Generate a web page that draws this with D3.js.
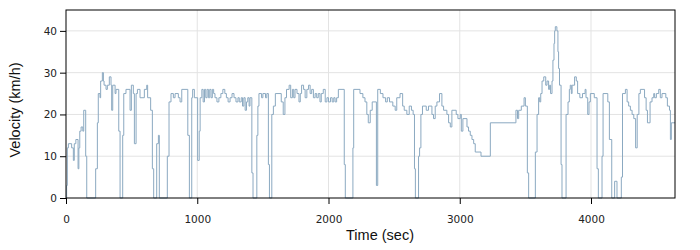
<!DOCTYPE html>
<html>
<head>
<meta charset="utf-8">
<script src="https://cdn.jsdelivr.net/npm/d3@7"></script>
<style>
  html, body { margin: 0; padding: 0; background: #fff; }
  svg { display: block; }
  .tick text { font-family: "DejaVu Sans", sans-serif; font-size: 10.5px; fill: #222; }
  .axis-label { font-family: "Liberation Sans", Arial, sans-serif; font-size: 14.5px; fill: #111; }
</style>
</head>
<body>
<svg id="chart" width="700" height="250"></svg>
<script>
// time (s) of each step start
const timeSec = [
  0,5,10,18,43,56,63,75,92,98,105,115,128,135,150,158,
  226,239,246,259,264,277,285,290,305,315,330,343,348,356,374,381,402,412,
  432,440,457,488,498,513,521,534,544,564,597,615,622,645,658,668,
  691,704,711,
  772,785,800,818,831,856,869,882,928,940,
  958,965,978,1003,1015,1022,1035,1045,1055,1065,1075,1085,1095,1105,1115,1125,1135,1150,1165,1180,1195,1210,1222,1235,1250,1265,1280,1295,1310,1320,1335,1345,1355,1365,1375,1385,1395,1402,1416,1425,
  1454,1462,1470,1490,1500,1520,1530,1542,1550,
  1568,1580,1595,1640,1655,1668,1680,1700,1712,1725,1735,1745,1760,1775,1785,1795,1810,1822,1835,1848,1860,1872,1885,1898,1910,1922,1935,1945,1960,1975,1988,2000,2015,2028,2040,2050,2062,2075,2120,2128,
  2186,2192,2240,2262,2278,2292,2303,2318,2333,2365,2375,2395,2415,2435,2448,2465,2490,2508,2520,2545,2565,2577,2597,2615,2632,2645,2655,2662,
  2686,2694,2704,2716,2745,2762,2788,2800,2813,2826,2846,2864,2877,2902,2915,2928,2940,2973,2986,3004,3012,3024,3055,3067,3080,3093,3106,3118,3162,3233,
  3428,3440,3449,3469,3490,3500,3515,3525,
  3576,3589,3601,3609,3617,3627,3640,3655,3665,3677,3685,3692,3703,3710,3718,3723,3728,3740,3748,3753,3760,3772,3779,
  3810,3825,3835,3842,3850,3856,3875,3888,3898,3915,3935,3955,3962,3975,3985,3995,4025,4046,4056,
  4084,4092,4128,4140,4158,4180,4198,
  4231,4240,4262,4275,4287,4300,4313,4326,4340,4352,4365,4376,4408,4420,4430,4450,4465,4478,4485,4498,4516,4528,4541,4570,4582,4598,4605,4612,4640
];
// velocity (km/h) from that time on
const velocityKmh = [
  0,3,12,13,12,9,13,14,7,12,16,17,16,21,10,0,
  7,18,25,24,28,30,28,27,26,27,29,27,21,27,25,26,16,0,
  15,25,26,21,27,25,13,25,26,24,26,27,24,21,7,0,
  13,15,0,
  10,23,25,24,25,24,23,26,15,0,
  24,26,24,9,16,24,26,23,26,24,26,24,26,24,26,25,24,23,24,25,26,25,24,23,24,25,24,23,24,23,24,22,24,21,23,24,22,24,6,0,
  15,22,25,24,25,24,25,8,0,
  20,22,25,23,20,24,26,27,24,26,24,26,25,23,25,27,26,24,26,27,25,26,24,25,24,25,23,25,26,23,24,23,24,23,24,23,24,26,8,0,
  12,26,25,24,23,20,18,21,23,3,26,25,24,23,24,23,22,21,24,25,22,21,20,22,21,20,7,0,
  10,12,20,22,21,22,20,19,22,23,25,22,21,20,18,17,21,20,19,20,16,19,17,16,15,14,13,11,10,18,
  21,19,21,22,24,22,6,0,
  11,20,24,23,25,28,29,27,28,26,27,25,28,33,37,40,41,40,35,31,27,8,0,
  20,23,26,27,25,27,29,28,25,24,25,26,24,20,23,25,24,7,0,
  10,25,23,14,0,4,0,
  5,25,26,23,22,21,20,19,12,20,25,26,24,21,18,23,24,25,24,25,26,24,25,24,22,21,14,18,18
];
const xTicks = [0, 1000, 2000, 3000, 4000];
const yTicks = [0, 10, 20, 30, 40];
const xMax = 4640;
const yMax = 45;

const data = timeSec.map((t, i) => ({ t, v: velocityKmh[i] }));

const margin = { left: 66, top: 10 };
const width = 609, height = 188;

const svg = d3.select("#chart");
const g = svg.append("g").attr("transform", `translate(${margin.left},${margin.top})`);

const x = d3.scaleLinear().domain([0, xMax]).range([0, width]);
const y = d3.scaleLinear().domain([0, yMax]).range([height, 0]);

// grid
g.append("g").selectAll("line.gx").data(xTicks.slice(1)).join("line")
  .attr("x1", d => x(d)).attr("x2", d => x(d)).attr("y1", 0).attr("y2", height)
  .attr("stroke", "#e3e3e3").attr("stroke-width", 1);
g.append("g").selectAll("line.gy").data(yTicks.slice(1)).join("line")
  .attr("y1", d => y(d)).attr("y2", d => y(d)).attr("x1", 0).attr("x2", width)
  .attr("stroke", "#e3e3e3").attr("stroke-width", 1);

// line
const line = d3.line().x(d => x(d.t)).y(d => y(d.v)).curve(d3.curveStepAfter);
g.append("path").datum(data)
  .attr("d", line)
  .attr("fill", "none")
  .attr("stroke", "#8ba9c1")
  .attr("stroke-width", 1);

// frame
g.append("rect").attr("x", 0).attr("y", 0).attr("width", width).attr("height", height)
  .attr("fill", "none").attr("stroke", "#000").attr("stroke-width", 1);

// axes
const xAxis = g.append("g").attr("transform", `translate(0,${height})`)
  .call(d3.axisBottom(x).tickValues(xTicks).tickFormat(d3.format("d")).tickSize(6).tickPadding(12));
const yAxis = g.append("g")
  .call(d3.axisLeft(y).tickValues(yTicks).tickFormat(d3.format("d")).tickSize(6).tickPadding(3));
[xAxis, yAxis].forEach(a => {
  a.select(".domain").remove();
  a.selectAll(".tick line").attr("stroke", "#000");
});

// axis labels
svg.append("text").attr("class", "axis-label")
  .attr("x", 380).attr("y", 240).attr("text-anchor", "middle")
  .text("Time (sec)");
svg.append("text").attr("class", "axis-label")
  .attr("transform", "translate(20,110) rotate(-90)").attr("text-anchor", "middle")
  .text("Velocity (km/h)");
</script>
</body>
</html>
